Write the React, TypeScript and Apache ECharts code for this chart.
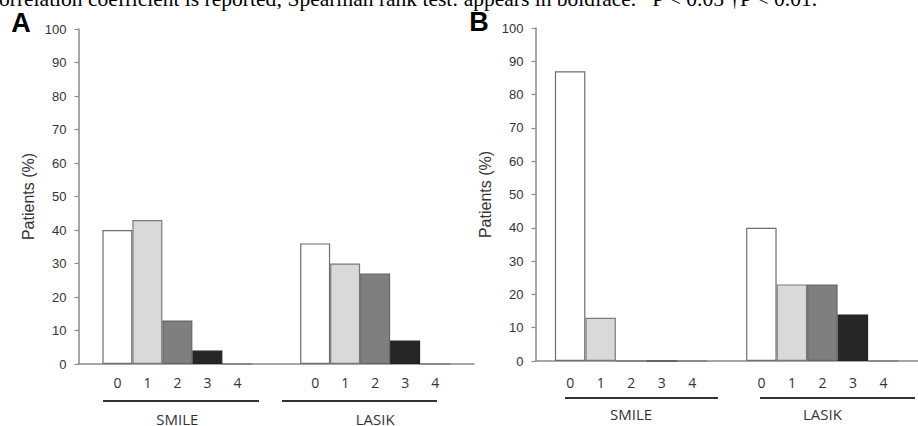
import React, { useEffect, useRef } from "react";
import * as echarts from "echarts";

// Data
const groups = ["SMILE", "LASIK"];
const grades = ["0", "1", "2", "3", "4"];
const yTicks = [0, 100, 10]; // min, max, interval
// Panel A (% patients per grade)
const smileA = [40, 43, 13, 4, 0];
const lasikA = [36, 30, 27, 7, 0];
// Panel B
const smileB = [87, 13, 0, 0, 0];
const lasikB = [40, 23, 23, 14, 0];

const caption =
  "orrelation coefficient is reported; Spearman rank test: appears in boldface. *P < 0.05 †P < 0.01.";

const fills = ["#ffffff", "#d9d9d9", "#7f7f7f", "#262626", "#ffffff"];
const borders = ["#6e6e6e", "#7a7a7a", "#666666", "#222222", "#6e6e6e"];
const axisColor = "#8a8a8a";
const textColor = "#333333";

export default function App() {
  const ref = useRef<HTMLDivElement>(null);
  useEffect(() => {
    if (!ref.current) return;
    const chart = echarts.init(ref.current, undefined, { renderer: "svg" });

    const panels = [
      { smile: smileA, lasik: lasikA, grid: { left: 78.5, top: 29, width: 395.5, height: 335 }, barWidth: 30, labelDist: 11 },
      { smile: smileB, lasik: lasikB, grid: { left: 535.5, top: 28, width: 396.6, height: 333 }, barWidth: 30.5, labelDist: 14 },
    ];

    const series: any[] = [];
    panels.forEach((p, pi) => {
      grades.forEach((g, gi) => {
        series.push({
          type: "bar",
          name: g,
          xAxisIndex: pi,
          yAxisIndex: pi,
          data: [p.smile[gi], p.lasik[gi]],
          barWidth: p.barWidth,
          barGap: "0%",
          itemStyle: { color: fills[gi], borderColor: borders[gi], borderWidth: 1.2 },
          label: {
            show: true,
            position: "bottom",
            distance: p.labelDist,
            formatter: "{a}",
            color: textColor,
            fontSize: 14,
            fontFamily: "Open Sans",
          },
          silent: true,
        });
      });
    });

    const lineStyle = { stroke: "#333", lineWidth: 2 };
    chart.setOption({
      animation: false,
      backgroundColor: "#ffffff",
      grid: panels.map((p) => ({ ...p.grid, containLabel: false })),
      xAxis: panels.map((p, pi) => ({
        type: "category",
        gridIndex: pi,
        data: groups,
        axisLine: { lineStyle: { color: axisColor, width: 1.5 } },
        axisTick: { show: false },
        axisLabel: {
          margin: pi === 0 ? 48 : 46,
          color: textColor,
          fontSize: 15,
          lineHeight: 13,
          fontFamily: "Open Sans",
        },
      })),
      yAxis: panels.map((p, pi) => ({
        type: "value",
        gridIndex: pi,
        min: yTicks[0],
        max: yTicks[1],
        interval: yTicks[2],
        name: "Patients (%)",
        nameLocation: "middle",
        nameGap: 42,
        nameTextStyle: { color: textColor, fontSize: 16, fontFamily: "Liberation Sans" },
        axisLine: { show: true, lineStyle: { color: axisColor, width: 1.5 } },
        axisTick: { show: true, length: 4, lineStyle: { color: axisColor, width: 1.2 } },
        axisLabel: { margin: 12, color: textColor, fontSize: 13, fontFamily: "Liberation Sans" },
        splitLine: { show: false },
      })),
      series,
      graphic: [
        {
          type: "text",
          x: -1,
          y: -1.5,
          style: {
            text: caption,
            font: '21.5px "Liberation Serif"',
            fill: "#000",
            verticalAlign: "middle",
          },
        },
        { type: "text", x: 21, y: 23, style: { text: "A", font: 'bold 27px "Liberation Sans"', fill: "#000", align: "center", verticalAlign: "middle" } },
        { type: "text", x: 479, y: 22, style: { text: "B", font: 'bold 27px "Liberation Sans"', fill: "#000", align: "center", verticalAlign: "middle" } },
        { type: "line", shape: { x1: 103, y1: 401, x2: 259, y2: 401 }, style: lineStyle },
        { type: "line", shape: { x1: 282, y1: 401, x2: 437, y2: 401 }, style: lineStyle },
        { type: "line", shape: { x1: 565, y1: 398, x2: 718, y2: 398 }, style: lineStyle },
        { type: "line", shape: { x1: 760, y1: 398, x2: 915, y2: 398 }, style: lineStyle },
      ],
    });
    return () => chart.dispose();
  }, []);
  return (
    <div
      ref={ref}
      style={{ position: "fixed", left: 0, top: 0, width: 918, height: 426 }}
    />
  );
}
